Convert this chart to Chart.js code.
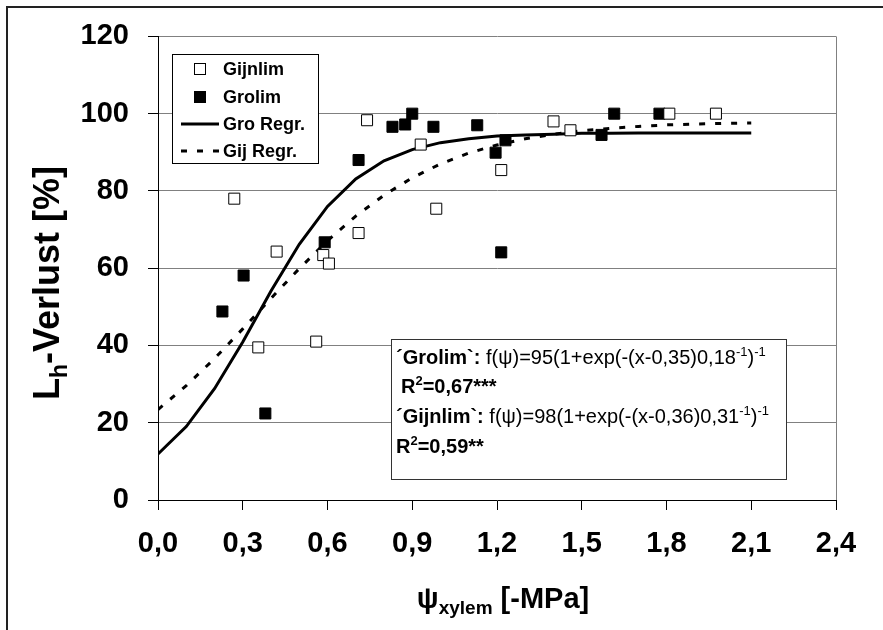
<!DOCTYPE html>
<html>
<head>
<meta charset="utf-8">
<script src="https://cdn.jsdelivr.net/npm/chart.js@4.4.0/dist/chart.umd.min.js"></script>
<style>
  html, body { margin: 0; padding: 0; background: #fff; }
  #wrap { width: 883px; height: 630px; }
</style>
</head>
<body>
<div id="wrap"><canvas id="chart" width="883" height="630"></canvas></div>
<script>
// data
const xTickValues = [0, 0.3, 0.6, 0.9, 1.2, 1.5, 1.8, 2.1, 2.4];
const xTickLabels = ['0,0', '0,3', '0,6', '0,9', '1,2', '1,5', '1,8', '2,1', '2,4'];
const yTickValues = [0, 20, 40, 60, 80, 100, 120];

const gijnlimX = [0.27, 0.355, 0.42, 0.56, 0.585, 0.605, 0.71, 0.74, 0.93, 0.985, 1.215, 1.40, 1.46, 1.81, 1.975];
const gijnlimY = [78, 39.5, 64.3, 41, 63.4, 61.2, 69.1, 98.3, 92, 75.4, 85.4, 98, 95.7, 100, 100];

const grolimX = [0.228, 0.303, 0.38, 0.59, 0.71, 0.83, 0.875, 0.90, 0.975, 1.13, 1.195, 1.215, 1.23, 1.57, 1.615, 1.775];
const grolimY = [48.8, 58.1, 22.4, 66.7, 88, 96.6, 97.2, 100, 96.6, 97, 89.9, 64.1, 93.1, 94.5, 100, 100];

const regrX = [0, 0.1, 0.2, 0.3, 0.4, 0.5, 0.6, 0.7, 0.8, 0.9, 1.0, 1.1, 1.2, 1.3, 1.4, 1.5, 1.6, 1.7, 1.8, 1.9, 2.0, 2.1];
const groRegrY = [11.9, 19.0, 28.8, 40.9, 54.1, 66.2, 76.0, 83.1, 87.8, 90.7, 92.5, 93.5, 94.2, 94.5, 94.7, 94.9, 94.9, 95.0, 95.0, 95.0, 95.0, 95.0];
const gijRegrY = [23.4, 29.6, 36.6, 44.3, 52.2, 59.9, 67.1, 73.5, 78.9, 83.4, 87.0, 89.8, 91.9, 93.5, 94.7, 95.6, 96.2, 96.7, 97.1, 97.3, 97.5, 97.6];

const FONT = "'Liberation Sans', Arial, sans-serif";

function pts(xs, ys) {
  return xs.map((x, i) => ({ x: x, y: ys[i] }));
}

// draw a run of text pieces one after the other
function drawRuns(ctx, x, y, runs) {
  runs.forEach(r => {
    ctx.font = r.f;
    ctx.fillText(r.t, x, y + (r.dy || 0));
    x += ctx.measureText(r.t).width;
  });
}
function runsWidth(ctx, runs) {
  let w = 0;
  runs.forEach(r => { ctx.font = r.f; w += ctx.measureText(r.t).width; });
  return w;
}

const decor = {
  id: 'decor',
  beforeDraw(chart) {
    const ctx = chart.ctx;
    ctx.save();
    ctx.fillStyle = '#fff';
    ctx.fillRect(0, 0, chart.width, chart.height);
    // outer frame (left and top visible)
    ctx.strokeStyle = '#222';
    ctx.lineWidth = 2;
    ctx.beginPath();
    ctx.moveTo(7, chart.height + 5);
    ctx.lineTo(7, 7);
    ctx.lineTo(chart.width + 5, 7);
    ctx.stroke();
    ctx.restore();
  },
  afterDatasetsDraw(chart) {
    const ctx = chart.ctx;
    const a = chart.chartArea;
    ctx.save();
    // right border of plot area
    ctx.strokeStyle = '#808080';
    ctx.lineWidth = 1;
    ctx.beginPath();
    ctx.moveTo(Math.round(a.right) + 0.5, a.top);
    ctx.lineTo(Math.round(a.right) + 0.5, a.bottom);
    ctx.stroke();

    // legend box
    ctx.fillStyle = '#fff';
    ctx.fillRect(172.5, 54.5, 146, 109);
    ctx.strokeStyle = '#000';
    ctx.strokeRect(172.5, 54.5, 146, 109);
    const rows = [69, 97, 124, 151];
    const ds = chart.data.datasets;
    ctx.textBaseline = 'middle';
    ctx.fillStyle = '#000';
    ctx.font = 'bold 18px ' + FONT;
    ds.forEach((d, i) => {
      const y = rows[i];
      if (d.showLine) {
        ctx.save();
        ctx.strokeStyle = d.borderColor;
        ctx.lineWidth = d.borderWidth;
        ctx.setLineDash(d.borderDash || []);
        ctx.beginPath();
        ctx.moveTo(181, y);
        ctx.lineTo(219, y);
        ctx.stroke();
        ctx.restore();
      } else {
        ctx.fillStyle = d.backgroundColor;
        ctx.fillRect(194.5, y - 5.5, 11, 11);
        ctx.strokeStyle = '#000';
        ctx.lineWidth = 1;
        ctx.strokeRect(194.5, y - 5.5, 11, 11);
      }
      ctx.fillStyle = '#000';
      ctx.fillText(d.label, 223, y + 1);
    });

    // equation box
    ctx.fillStyle = '#fff';
    ctx.fillRect(391.5, 339.5, 395, 140);
    ctx.strokeStyle = '#333';
    ctx.lineWidth = 1;
    ctx.strokeRect(391.5, 339.5, 395, 140);
    ctx.fillStyle = '#000';
    ctx.textBaseline = 'alphabetic';
    const B = 'bold 20px ' + FONT, N = '20px ' + FONT, S = '13px ' + FONT, SB = 'bold 13px ' + FONT;
    drawRuns(ctx, 396, 364, [
      { t: '\u00B4Grolim`:', f: B }, { t: ' f(\u03C8)=95(1+exp(-(x-0,35)0,18', f: N },
      { t: '-1', f: S, dy: -8 }, { t: ')', f: N }, { t: '-1', f: S, dy: -8 }
    ]);
    drawRuns(ctx, 401, 393, [
      { t: 'R', f: B }, { t: '2', f: SB, dy: -8 }, { t: '=0,67***', f: B }
    ]);
    drawRuns(ctx, 396, 423, [
      { t: '\u00B4Gijnlim`:', f: B }, { t: ' f(\u03C8)=98(1+exp(-(x-0,36)0,31', f: N },
      { t: '-1', f: S, dy: -8 }, { t: ')', f: N }, { t: '-1', f: S, dy: -8 }
    ]);
    drawRuns(ctx, 396, 453, [
      { t: 'R', f: B }, { t: '2', f: SB, dy: -8 }, { t: '=0,59**', f: B }
    ]);

    // axis titles
    const T = 'bold 29px ' + FONT, TS = 'bold 19px ' + FONT;
    const xRuns = [{ t: '\u03C8', f: T }, { t: 'xylem', f: TS, dy: 6 }, { t: ' [-MPa]', f: T }];
    const xw = runsWidth(ctx, xRuns);
    drawRuns(ctx, 503 - xw / 2, 608, xRuns);

    const YT = 'bold 36px ' + FONT, YS = 'bold 23px ' + FONT;
    const yRuns = [{ t: 'L', f: YT }, { t: 'h', f: YS, dy: 8 }, { t: '-Verlust [%]', f: YT }];
    const yw = runsWidth(ctx, yRuns);
    ctx.translate(59, 283);
    ctx.rotate(-Math.PI / 2);
    drawRuns(ctx, -yw / 2, 0, yRuns);
    ctx.restore();
  }
};

const ctx = document.getElementById('chart').getContext('2d');
new Chart(ctx, {
  type: 'scatter',
  data: {
    datasets: [
      {
        label: 'Gijnlim',
        data: pts(gijnlimX, gijnlimY),
        pointStyle: 'rect',
        pointRadius: 7.8,
        backgroundColor: '#fff',
        borderColor: '#000',
        borderWidth: 1,
        showLine: false,
        order: 1
      },
      {
        label: 'Grolim',
        data: pts(grolimX, grolimY),
        pointStyle: 'rect',
        pointRadius: 7.8,
        backgroundColor: '#000',
        borderColor: '#000',
        borderWidth: 1,
        showLine: false,
        order: 1
      },
      {
        label: 'Gro Regr.',
        data: pts(regrX, groRegrY),
        showLine: true,
        borderColor: '#000',
        borderWidth: 3,
        pointRadius: 0,
        tension: 0,
        fill: false,
        order: 2
      },
      {
        label: 'Gij Regr.',
        data: pts(regrX, gijRegrY),
        showLine: true,
        borderColor: '#000',
        borderWidth: 3,
        borderDash: [6, 10],
        pointRadius: 0,
        tension: 0,
        fill: false,
        order: 2
      }
    ]
  },
  options: {
    responsive: false,
    animation: false,
    devicePixelRatio: 1,
    layout: { padding: { left: 0, top: 35, right: 47, bottom: 0 } },
    plugins: {
      legend: { display: false },
      tooltip: { enabled: false }
    },
    scales: {
      x: {
        type: 'linear',
        min: 0,
        max: 2.4,
        afterBuildTicks: s => { s.ticks = xTickValues.map(v => ({ value: v })); },
        afterFit: s => { s.height = 130; },
        ticks: {
          callback: (v, i) => xTickLabels[i],
          font: { family: FONT, size: 29, weight: 'bold' },
          color: '#000',
          padding: 17,
          maxRotation: 0,
          autoSkip: false
        },
        grid: { drawOnChartArea: false, tickLength: 10, tickColor: '#000' },
        border: { color: '#000', width: 1 }
      },
      y: {
        min: 0,
        max: 120,
        afterBuildTicks: s => { s.ticks = yTickValues.map(v => ({ value: v })); },
        afterFit: s => { s.width = 158; },
        ticks: {
          font: { family: FONT, size: 29, weight: 'bold' },
          color: '#000',
          padding: 19
        },
        grid: {
          color: c => (c.tick && c.tick.value === 0) ? 'rgba(0,0,0,0)' : '#808080',
          tickLength: 10,
          tickColor: '#000'
        },
        border: { color: '#000', width: 1 }
      }
    }
  },
  plugins: [decor]
});
</script>
</body>
</html>
